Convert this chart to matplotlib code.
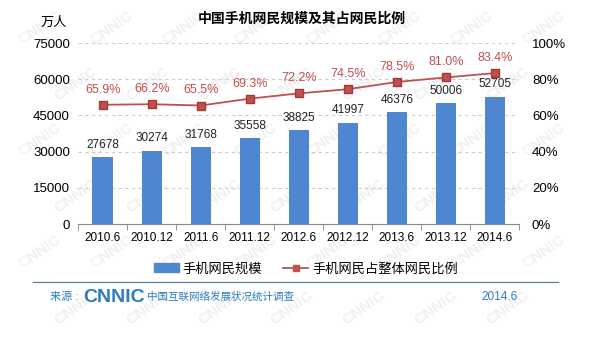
import matplotlib
matplotlib.use("Agg")
import matplotlib.pyplot as plt
from matplotlib.lines import Line2D
from matplotlib.patches import Patch

plt.rcParams['font.family'] = ['Liberation Sans', 'Noto Sans CJK SC', 'DejaVu Sans']

periods = ['2010.6', '2010.12', '2011.6', '2011.12', '2012.6',
           '2012.12', '2013.6', '2013.12', '2014.6']
users = [27678, 30274, 31768, 35558, 38825, 41997, 46376, 50006, 52705]
share = [65.9, 66.2, 65.5, 69.3, 72.2, 74.5, 78.5, 81.0, 83.4]
left_ticks = [0, 15000, 30000, 45000, 60000, 75000]
right_ticks = [0, 20, 40, 60, 80, 100]

bar_color = '#4F86D0'
line_color = '#C0504D'
blue_text = '#2E7BC4'

W, H = 593, 339
fig = plt.figure(figsize=(W / 100, H / 100), dpi=100)

# faint CNNIC watermark, drawn below the axes
for r in range(6):
    for c in range(8):
        px = 40 + c * 72 + (36 if r % 2 else 0)
        py = 28 + r * 56
        if px > W - 35:
            continue
        fig.text(px / W, 1 - py / H, 'CNNIC', fontsize=11, color='#f0f0f0',
                 rotation=35, fontweight='bold', ha='center', va='center', zorder=-1)

ax = fig.add_axes([0.132, 0.339, 0.744, 0.534])
ax.patch.set_alpha(0)
x = list(range(len(periods)))
ax.bar(x, users, width=0.42, color=bar_color, zorder=2)
for xi, v in zip(x, users):
    ax.text(xi, v + 5200, str(v), ha='center', va='center', fontsize=8.5, color='#222222')

ax.set_ylim(0, 75000)
ax.set_xlim(-0.5, len(periods) - 0.5)
ax.set_yticks(left_ticks)
ax.set_yticklabels([str(t) for t in left_ticks], fontsize=9.5)
ax.set_xticks(x)
ax.set_xticklabels(periods, fontsize=8.5)
ax.set_xticks([i + 0.5 for i in range(-1, len(periods))], minor=True)
ax.tick_params(axis='x', which='major', length=0, pad=6)
ax.tick_params(axis='x', which='minor', length=4, color='#888888')
ax.tick_params(axis='y', length=0, pad=6)
ax.yaxis.grid(True, linestyle=(0, (3, 3)), color='#cccccc', linewidth=0.8)
ax.set_axisbelow(True)
for s in ['top', 'right', 'left']:
    ax.spines[s].set_visible(False)
ax.spines['bottom'].set_color('#888888')

ax2 = ax.twinx()
ax2.plot(x, share, color=line_color, linewidth=1.3, marker='s', markersize=6,
         markerfacecolor=line_color, markeredgecolor='#9e3a37', zorder=3)
for xi, v in zip(x, share):
    ax2.text(xi, v + 8.3, f'{v:.1f}%', ha='center', va='center', fontsize=9, color=line_color)
ax2.set_ylim(0, 100)
ax2.set_yticks(right_ticks)
ax2.set_yticklabels([f'{t}%' for t in right_ticks], fontsize=9.5)
ax2.tick_params(axis='y', length=0, pad=9)
for s in ['top', 'right', 'left', 'bottom']:
    ax2.spines[s].set_visible(False)

fig.text(0.509, 0.944, '中国手机网民规模及其占网民比例', ha='center', va='center',
         fontsize=10, fontweight='bold')
fig.text(0.09, 0.932, '万人', ha='center', va='center', fontsize=9.5)

handles = [Patch(color=bar_color),
           Line2D([0], [0], color=line_color, marker='s', markersize=5, linewidth=1.3)]
fig.legend(handles, ['手机网民规模', '手机网民占整体网民比例'], loc='center',
           bbox_to_anchor=(0.516, 0.206), ncol=2, frameon=False, fontsize=9.5,
           handlelength=1.9, columnspacing=1.6, handletextpad=0.3)

fig.add_artist(Line2D([33 / W, 558 / W], [1 - 282 / H, 1 - 282 / H],
                      color='#5b7fa0', linewidth=0.9))
fy = 1 - 297 / H
fig.text(50 / W, fy, '来源 :', ha='left', va='center', fontsize=8, color=blue_text)
fig.text(83 / W, fy, 'CNNIC', ha='left', va='center', fontsize=14,
         fontweight='bold', color=blue_text)
fig.text(147 / W, fy, '中国互联网络发展状况统计调查', ha='left', va='center',
         fontsize=7.6, color=blue_text)
fig.text(481 / W, fy, '2014.6', ha='left', va='center', fontsize=8.5, color=blue_text)

fig.savefig('out.png', dpi=100)
